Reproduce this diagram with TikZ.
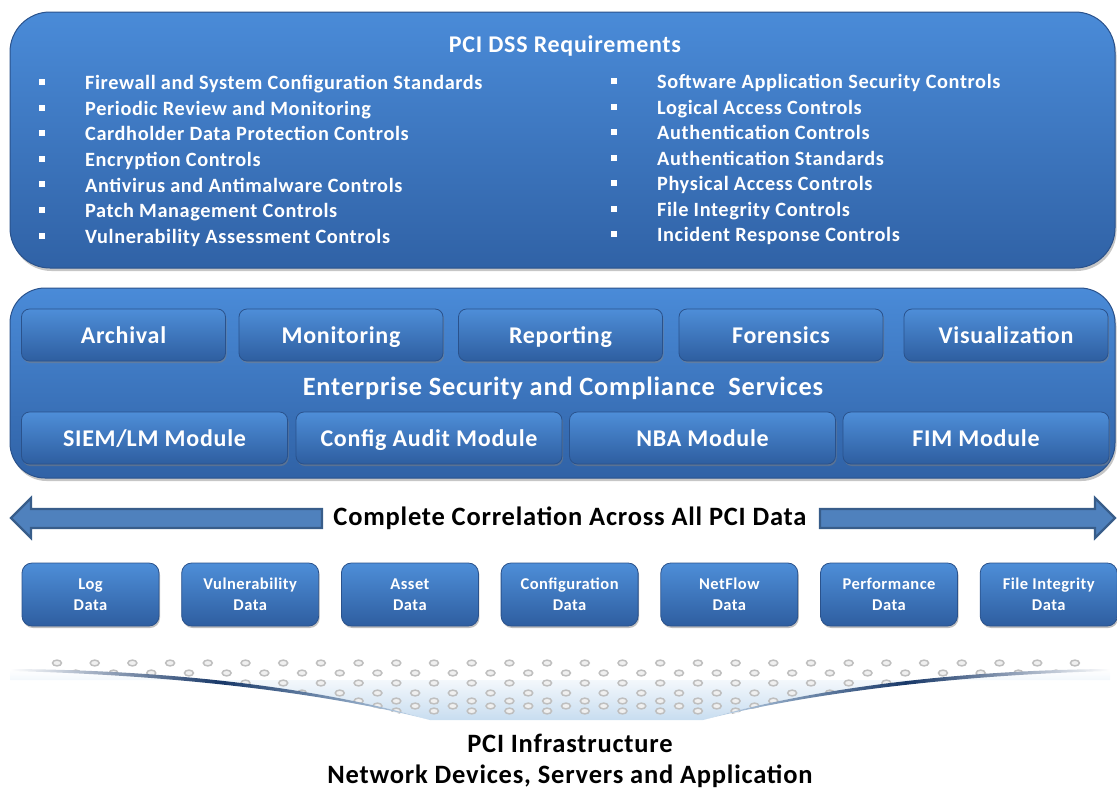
\documentclass[tikz,border=0pt]{standalone}
\usepackage{fontspec}
\setmainfont{Carlito}[LetterSpace=3]
\usetikzlibrary{shadows}
\definecolor{pnlTop}{RGB}{74,139,216}
\definecolor{pnlBot}{RGB}{48,98,166}
\definecolor{pnlEdge}{RGB}{42,82,140}
\definecolor{btnTop}{RGB}{78,142,216}
\definecolor{btnBot}{RGB}{46,94,160}
\definecolor{arrFill}{RGB}{79,129,189}
\definecolor{arrEdge}{RGB}{56,93,138}
\definecolor{swDark}{RGB}{24,56,104}
\definecolor{bowlBlue}{RGB}{200,221,240}
\tikzset{
  panel/.style={rounded corners=40, top color=pnlTop, bottom color=pnlBot,
    draw=pnlEdge, line width=1,
    drop shadow={opacity=0.45, shadow xshift=1.5pt, shadow yshift=-3pt}},
  btn/.style={rounded corners=8, top color=btnTop, bottom color=btnBot,
    draw=pnlEdge, line width=0.8, text=white,
    font=\bfseries\fontsize{24}{27}\selectfont,
    drop shadow={opacity=0.5, shadow xshift=1pt, shadow yshift=-2pt}},
  oneline/.style={text height=19, text depth=2},
  dbox/.style={btn, rounded corners=10, minimum width=137, minimum height=63,
    align=center, font=\bfseries\fontsize{16.5}{21}\selectfont},
  ttl/.style={text=white, font=\bfseries\fontsize{24}{27}\selectfont},
  bul/.style={text=white, anchor=west, inner sep=0, text height=14, text depth=4.5,
    font=\bfseries\fontsize{20.3}{23}\selectfont},
  sq/.style={fill=white, minimum size=6, inner sep=0},
  corr/.style={text=black, font=\bfseries\fontsize{26.5}{29}\selectfont},
  barrow/.style={fill=arrFill, draw=arrEdge, line width=2.2},
  dot/.style={fill=gray!12, draw=gray!50, line width=1.5},
}
\begin{document}
\begin{tikzpicture}[x=1pt,y=-1pt]
\useasboundingbox (0,0) rectangle (1117,788);
%---------------------------------------------------
% requirements panel
\node[panel, minimum width=1105, minimum height=256] (req) at (562.5,140) {};
\node[ttl] (reqt) at (565,46) {PCI DSS Requirements};
\foreach \i/\txt in {0/Firewall and System Configuration Standards,
  1/Periodic Review and Monitoring, 2/Cardholder Data Protection Controls,
  3/Encryption Controls, 4/Antivirus and Antimalware Controls,
  5/Patch Management Controls, 6/Vulnerability Assessment Controls}{
  \node[sq] (lb\i) at (42,82+25.6*\i) {};
  \node[bul] (l\i) at (85,85+25.6*\i) {\txt};
}
\foreach \i/\txt in {0/Software Application Security Controls,
  1/Logical Access Controls, 2/Authentication Controls,
  3/Authentication Standards, 4/Physical Access Controls,
  5/File Integrity Controls, 6/Incident Response Controls}{
  \node[sq] (rb\i) at (614,81+25.5*\i) {};
  \node[bul] (r\i) at (657,84+25.5*\i) {\txt};
}
%---------------------------------------------------
% services panel
\node[panel, rounded corners=35, minimum width=1105, minimum height=190] (svc) at (562.5,383) {};
\foreach \x/\t/\n in {123.5/Archival/arch, 341/Monitoring/mon, 560.5/Reporting/rep,
  781/Forensics/for, 1006/Visualization/vis}{
  \node[btn, oneline, minimum width=204, minimum height=52] (\n) at (\x,335) {\t};
}
\node[ttl, font=\bfseries\fontsize{26.4}{29}\selectfont] (esc) at (563,388)
  {Enterprise Security and Compliance\ \ Services};
\foreach \x/\t/\n in {154.5/SIEM\slash LM Module/siem, 429/Config Audit Module/cfg,
  702.5/NBA Module/nba, 976/FIM Module/fim}{
  \node[btn, oneline, minimum width=266, minimum height=52] (\n) at (\x,438) {\t};
}
%---------------------------------------------------
% correlation arrows
\node[corr] (corr) at (570,518) {Complete Correlation Across All PCI Data};
\draw[barrow] (11,518) -- (31,498) -- (31,509) -- (322,509) -- (322,528)
  -- (31,528) -- (31,538) -- cycle;
\draw[barrow] (1115,518) -- (1095,498) -- (1095,509) -- (820,509) -- (820,528)
  -- (1095,528) -- (1095,538) -- cycle;
%---------------------------------------------------
% data sources
\foreach \i/\t in {0/Log, 1/Vulnerability, 2/Asset, 3/Configuration,
  4/NetFlow, 5/Performance, 6/File Integrity}{
  \node[dbox] (d\i) at (90.5+159.7*\i,594.5) {\t\\Data};
}
%---------------------------------------------------
% infrastructure swoosh
\shade[top color=white, bottom color=bowlBlue] (10,680) -- (1110,680) -- (1110,669)
  .. controls (953,670) and (803,690) .. (703,720) -- (430,720)
  .. controls (330,690) and (180,670) .. (10,669) -- cycle;
\begin{scope}
\clip (10,655) -- (1090,655) -- (1090,671)
  .. controls (953,672) and (803,692) .. (703,722) -- (430,722)
  .. controls (330,692) and (180,672) .. (10,671) -- cycle;
\foreach \r/\y in {0/663, 1/673, 2/683, 3/693, 4/701, 5/706, 6/711}{
  \foreach \c in {0,...,28}{
    \draw[dot] ({57+37.7*\c+18.85*mod(\r,2)},\y) ellipse (4.5 and 2.9);
  }
}
\end{scope}
\shade[left color=white, right color=bowlBlue, middle color=swDark]
  (10,669) .. controls (180,670) and (330,690) .. (430,720)
  .. controls (330,694) and (180,675) .. (10,671) -- cycle;
\shade[left color=bowlBlue, right color=white, middle color=swDark]
  (1110,669) .. controls (953,670) and (803,690) .. (703,720)
  .. controls (803,694) and (953,675) .. (1110,671) -- cycle;
\node[corr] (infra) at (570,743) {PCI Infrastructure};
\node[corr] (devs) at (570,776) {Network Devices, Servers and Application};
\end{tikzpicture}
\end{document}
